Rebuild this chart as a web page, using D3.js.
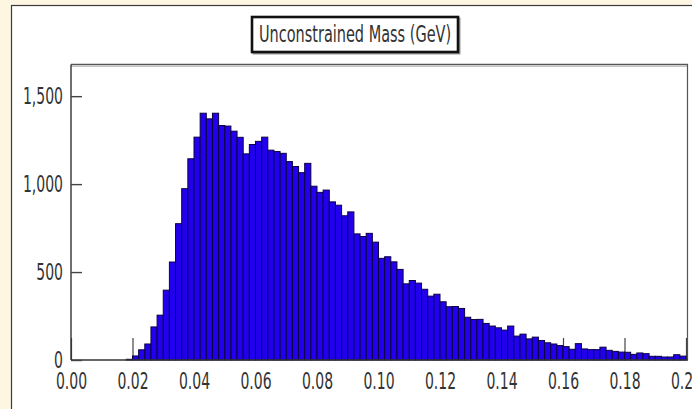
<!DOCTYPE html>
<html>
<head>
<meta charset="utf-8">
<script src="https://cdn.jsdelivr.net/npm/d3@7"></script>
<style>
  html, body { margin: 0; padding: 0; background: #fdf6e0; }
  svg { display: block; }
</style>
</head>
<body>
<svg id="chart" width="692" height="409"></svg>
<script>
// Histogram of the unconstrained mass, 100 bins of 0.002 GeV over [0, 0.2]
const chartTitle = "Unconstrained Mass (GeV)";
const massRange = [0, 0.2];
const binWidth = 0.002;
const counts = [
  0, 0, 0, 0, 0, 0, 0, 0, 0, 4,
  23, 58, 91, 188, 255, 397, 557, 775, 974, 1144,
  1267, 1403, 1371, 1403, 1333, 1330, 1301, 1266, 1172, 1225,
  1243, 1267, 1193, 1185, 1175, 1128, 1100, 1065, 1118, 988,
  953, 966, 899, 880, 820, 842, 717, 702, 720, 670,
  578, 587, 558, 515, 433, 452, 437, 402, 363, 374,
  331, 303, 304, 293, 243, 230, 231, 208, 193, 183,
  170, 193, 136, 147, 120, 130, 111, 98, 91, 82,
  76, 61, 93, 63, 59, 59, 73, 55, 49, 45,
  44, 32, 40, 36, 21, 21, 17, 17, 30, 22
];
const xTickValues = [0, 0.02, 0.04, 0.06, 0.08, 0.10, 0.12, 0.14, 0.16, 0.18, 0.20];
const yTickValues = [0, 500, 1000, 1500];
const yMax = 1680;

const svg = d3.select("#chart");
const textScaleY = 1.6;
const font = "'DejaVu Sans', sans-serif";

// white panel on the cream page
svg.append("rect")
  .attr("x", 11.5).attr("y", 5.5)
  .attr("width", 720).attr("height", 440)
  .attr("fill", "#ffffff")
  .attr("stroke", "#3a3a3a").attr("stroke-width", 1.2);

const plot = { left: 71, right: 686, top: 64.5, bottom: 360 };

const x = d3.scaleLinear().domain(massRange).range([plot.left, plot.right]);
const y = d3.scaleLinear().domain([0, yMax]).range([plot.bottom, plot.top]);

// frame: top and right edges
svg.append("line")
  .attr("x1", plot.left).attr("x2", plot.right + 2)
  .attr("y1", plot.top).attr("y2", plot.top)
  .attr("stroke", "#555").attr("stroke-width", 1.6);
svg.append("line")
  .attr("x1", plot.left).attr("x2", plot.right + 2)
  .attr("y1", plot.top + 1.8).attr("y2", plot.top + 1.8)
  .attr("stroke", "#b5b5b5").attr("stroke-width", 1);
svg.append("line")
  .attr("x1", plot.right + 1.5).attr("x2", plot.right + 1.5)
  .attr("y1", plot.top).attr("y2", plot.bottom)
  .attr("stroke", "#555").attr("stroke-width", 1.2);

// x axis with inward ticks
const xAxis = d3.axisBottom(x)
  .tickValues(xTickValues)
  .tickFormat(d3.format(".2f"))
  .tickSize(-22)
  .tickSizeOuter(0);

const gx = svg.append("g")
  .attr("transform", `translate(0,${plot.bottom})`)
  .call(xAxis);
gx.select(".domain").remove();
gx.selectAll(".tick line").attr("stroke", "#444").attr("stroke-width", 1.2);
gx.selectAll(".tick text")
  .attr("y", 21.5 / textScaleY)
  .attr("dy", null)
  .attr("dominant-baseline", "central")
  .attr("transform", `scale(1,${textScaleY})`)
  .attr("fill", "#333")
  .style("font-family", font)
  .style("font-size", "14px");

// histogram bars
const bins = counts.map((c, i) => ({ x0: i * binWidth, x1: (i + 1) * binWidth, count: c }));
svg.append("g")
  .selectAll("rect")
  .data(bins.filter(d => d.count > 0))
  .join("rect")
  .attr("x", d => x(d.x0))
  .attr("width", d => x(d.x1) - x(d.x0))
  .attr("y", d => y(d.count))
  .attr("height", d => y(0) - y(d.count))
  .attr("fill", "#2200ee")
  .attr("stroke", "#0c0040")
  .attr("stroke-width", 1);

// baseline
svg.append("line")
  .attr("x1", plot.left).attr("x2", plot.right + 2)
  .attr("y1", plot.bottom).attr("y2", plot.bottom)
  .attr("stroke", "#333").attr("stroke-width", 1.4);

// y axis with inward ticks
const yAxis = d3.axisLeft(y)
  .tickValues(yTickValues)
  .tickFormat(d3.format(","))
  .tickSize(-11)
  .tickPadding(8)
  .tickSizeOuter(0);

const gy = svg.append("g")
  .attr("transform", `translate(${plot.left},0)`)
  .call(yAxis);
gy.select(".domain")
  .attr("d", `M0,${plot.top}V${plot.bottom}`)
  .attr("stroke", "#333").attr("stroke-width", 1.4);
gy.selectAll(".tick line").attr("stroke", "#444").attr("stroke-width", 1.4);
gy.selectAll(".tick text")
  .attr("dy", null)
  .attr("y", 0)
  .attr("dominant-baseline", "central")
  .attr("transform", `scale(1,${textScaleY})`)
  .attr("fill", "#333")
  .style("font-family", font)
  .style("font-size", "14px");

// title box
const titleBox = { x: 252, y: 17, w: 206, h: 35 };
svg.append("rect")
  .attr("x", titleBox.x + 1.5).attr("y", titleBox.y + 1.5)
  .attr("width", titleBox.w).attr("height", titleBox.h)
  .attr("fill", "none").attr("stroke", "#999").attr("stroke-width", 2);
svg.append("rect")
  .attr("x", titleBox.x).attr("y", titleBox.y)
  .attr("width", titleBox.w).attr("height", titleBox.h)
  .attr("fill", "#fff").attr("stroke", "#111").attr("stroke-width", 2.6);
svg.append("text")
  .attr("transform", `translate(${titleBox.x + titleBox.w / 2},${titleBox.y + titleBox.h / 2}) scale(1,${textScaleY})`)
  .attr("text-anchor", "middle")
  .attr("dominant-baseline", "central")
  .attr("fill", "#333")
  .style("font-family", font)
  .style("font-size", "14.5px")
  .text(chartTitle);
</script>
</body>
</html>
